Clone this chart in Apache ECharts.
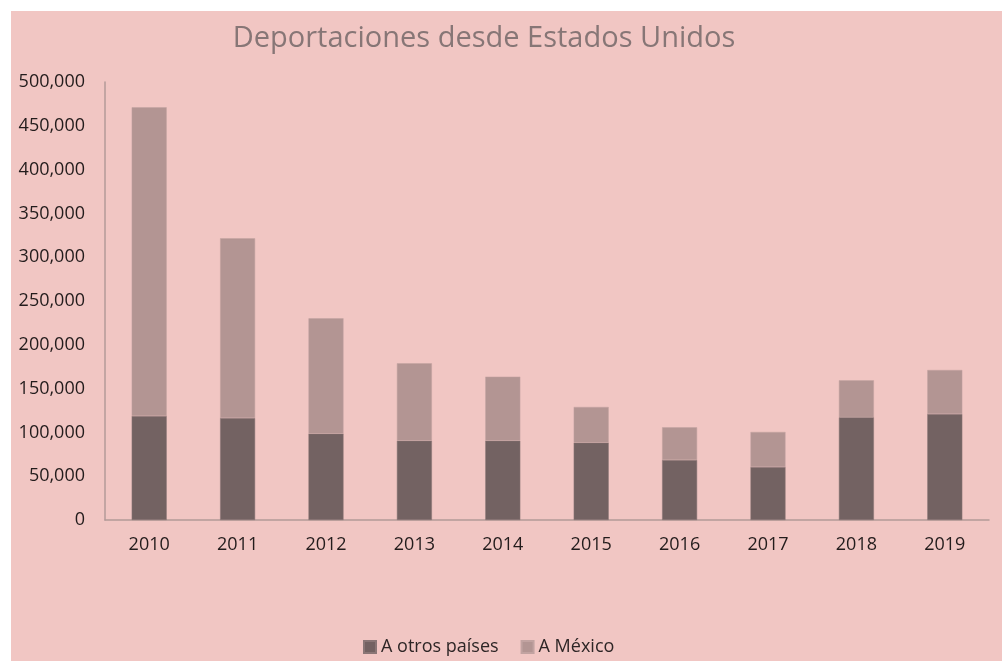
<!DOCTYPE html>
<html>
<head>
<meta charset="utf-8">
<script src="https://cdn.jsdelivr.net/npm/echarts@6/dist/echarts.min.js"></script>
<style>
html,body{margin:0;padding:0;background:#ffffff;}
#chart{position:absolute;left:11px;top:11px;width:991px;height:650px;background:#F1C6C3;}
</style>
</head>
<body>
<div id="chart"></div>
<script>
const years = ['2010','2011','2012','2013','2014','2015','2016','2017','2018','2019'];
const otrosPaises = [118700, 116400, 98500, 90500, 90500, 88300, 68500, 60500, 117200, 121000];
const aMexico = [352400, 205200, 131700, 88400, 73100, 40700, 37300, 40000, 42200, 50200];
const titleText = 'Deportaciones desde Estados Unidos';
const seriesNames = ['A otros países', 'A México'];

const chart = echarts.init(document.getElementById('chart'));
const font = '"Open Sans", sans-serif';
chart.setOption({
  backgroundColor: '#F1C6C3',
  animation: false,
  title: {
    text: titleText,
    left: 468,
    textAlign: 'center',
    top: 8,
    textStyle: {fontFamily: font, fontSize: 29, fontWeight: 'normal', color: '#877676'}
  },
  legend: {
    data: seriesNames,
    left: 347,
    top: 622,
    itemWidth: 12,
    itemHeight: 12,
    itemGap: 22,
    icon: 'rect',
    textStyle: {fontFamily: font, fontSize: 18, color: '#2E2626'}
  },
  grid: {left: 94, right: 13, top: 71, bottom: 141, containLabel: false},
  xAxis: {
    type: 'category',
    data: years,
    axisLine: {lineStyle: {color: '#B39A98', width: 1.5}},
    axisTick: {show: false},
    axisLabel: {fontFamily: font, fontSize: 18, color: '#231C1C', margin: 16}
  },
  yAxis: {
    type: 'value',
    min: 0,
    max: 500000,
    interval: 50000,
    axisLine: {show: true, lineStyle: {color: '#B39A98', width: 1.5}},
    axisTick: {show: false},
    splitLine: {show: false},
    axisLabel: {
      fontFamily: font, fontSize: 18, color: '#231C1C', margin: 20,
      formatter: v => v.toLocaleString('en-US')
    }
  },
  series: [
    {
      name: seriesNames[0], type: 'bar', stack: 'total', data: otrosPaises,
      barWidth: 35,
      itemStyle: {color: '#736262', borderColor: '#8A7676', borderWidth: 0.5}
    },
    {
      name: seriesNames[1], type: 'bar', stack: 'total', data: aMexico,
      barWidth: 35,
      itemStyle: {color: '#B39593', borderColor: '#C2A3A1', borderWidth: 0.5}
    }
  ]
});
</script>
</body>
</html>
